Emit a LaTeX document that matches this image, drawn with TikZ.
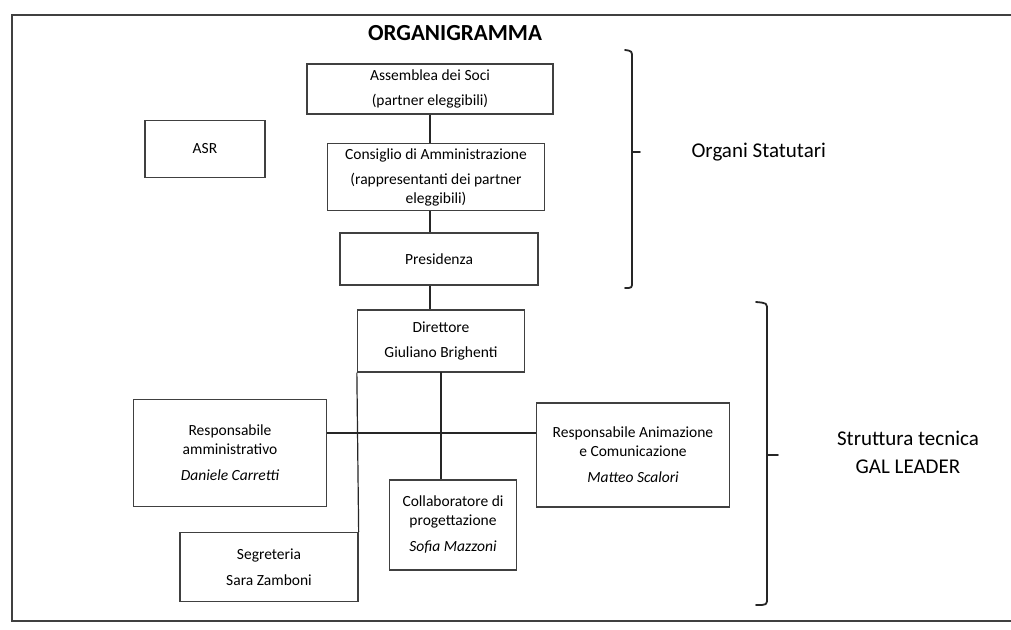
\documentclass[tikz,border=0pt]{standalone}
\usepackage{fontspec}
\setmainfont{Carlito}
\begin{document}
\begin{tikzpicture}[x=1pt,y=-1pt,
  box/.style={draw=black!75,line width=1.3pt,rectangle,inner sep=0pt,align=center,
    font=\fontsize{15.5}{19}\selectfont},
  conn/.style={draw=black!85,line width=1.2pt},
  brace/.style={draw=black!85,line width=1.8pt,line cap=round,line join=round},
  side/.style={font=\fontsize{21}{28}\selectfont,align=center}]
\useasboundingbox (0,0) rectangle (1011,629);
\fill[white] (0,0) rectangle (1011,629);
\draw[black!75,line width=1.3pt] (12,15) rectangle (1020,621);
\node[font=\fontsize{23}{26}\selectfont\bfseries] (title) at (455,33) {ORGANIGRAMMA};
% boxes
\node[box,minimum width=246pt,minimum height=50pt] (ass) at (430,89) {Assemblea dei Soci\\[6pt](partner eleggibili)};
\node[box,minimum width=120pt,minimum height=57pt] (asr) at (205,149) {ASR};
\node[box,minimum width=217pt,minimum height=67pt] (cda) at (436,177) {Consiglio di Amministrazione\\[6pt](rappresentanti dei partner\\eleggibili)};
\node[box,minimum width=198pt,minimum height=52pt] (pres) at (439,259) {Presidenza};
\node[box,minimum width=167pt,minimum height=62pt] (dir) at (441,341) {Direttore\\[6pt]Giuliano Brighenti};
\node[box,minimum width=193pt,minimum height=107pt] (ramm) at (230,453) {Responsabile\\amministrativo\\[7pt]\textit{Daniele Carretti}};
\node[box,minimum width=193pt,minimum height=104pt] (ranim) at (633,455) {Responsabile Animazione\\e Comunicazione\\[7pt]\textit{Matteo Scalori}};
\node[box,minimum width=127pt,minimum height=90pt] (coll) at (453,525) {Collaboratore di\\progettazione\\[7pt]\textit{Sofia Mazzoni}};
\node[box,minimum width=178pt,minimum height=69pt] (segr) at (269,567) {Segreteria\\[7pt]Sara Zamboni};
% connectors
\draw[conn] (ass.south) -- (ass.south |- cda.north);
\draw[conn] (ass.south |- cda.south) -- (ass.south |- pres.north);
\draw[conn] (ass.south |- pres.south) -- (ass.south |- dir.north);
\coordinate (dv) at (441,372);
\draw[conn] (dv) -- (dv |- coll.north);
\coordinate (hl) at (0,433);
\draw[conn] (ramm.east |- hl) -- (ranim.west |- hl);
\draw[conn] (dir.south west) -- (segr.north east);
% braces
\draw[brace] (625,50) .. controls (632,51) .. (632,58) -- (632,282) .. controls (632,288) .. (625,288);
\draw[brace] (632,152) -- (640,152);
\draw[brace] (756,302) .. controls (767,303) .. (767,310) -- (767,598) .. controls (767,605) .. (756,605);
\draw[brace] (767,455) -- (778,455);
\node[side,anchor=west] (os) at (688,152) {Organi Statutari};
\node[side] (st) at (908,452) {Struttura tecnica\\GAL LEADER};
\end{tikzpicture}
\end{document}
